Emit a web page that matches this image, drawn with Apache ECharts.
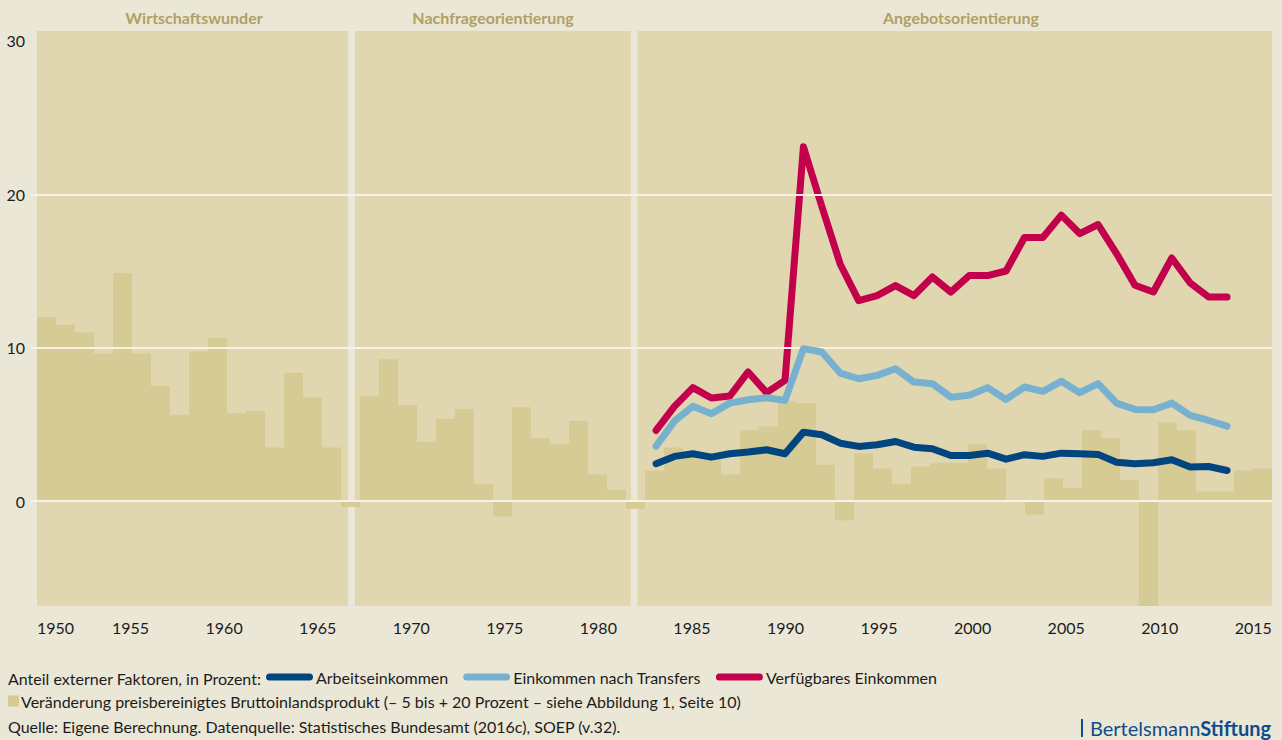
<!DOCTYPE html>
<html lang="de">
<head>
<meta charset="UTF-8">
<title>Anteil externer Faktoren</title>
<script src="https://cdn.jsdelivr.net/npm/echarts@6.0.0/dist/echarts.min.js"></script>
<style>
  * { margin: 0; padding: 0; box-sizing: border-box; }
  body { background: #ebe7d6; }
  #chart { width: 1282px; height: 740px; }
</style>
</head>
<body>
<div id="chart"></div>
<script>
// GDP growth (bars), 1951-2015, in percent
var barYears = [1951, 1952, 1953, 1954, 1955, 1956, 1957, 1958, 1959, 1960,
  1961, 1962, 1963, 1964, 1965, 1966, 1967, 1968, 1969, 1970,
  1971, 1972, 1973, 1974, 1975, 1976, 1977, 1978, 1979, 1980,
  1981, 1982, 1983, 1984, 1985, 1986, 1987, 1988, 1989, 1990,
  1991, 1992, 1993, 1994, 1995, 1996, 1997, 1998, 1999, 2000,
  2001, 2002, 2003, 2004, 2005, 2006, 2007, 2008, 2009, 2010,
  2011, 2012, 2013, 2014, 2015];
var gdpGrowth = [9.6, 9.2, 8.8, 7.7, 11.9, 7.7, 6.0, 4.5, 7.8, 8.5,
  4.6, 4.7, 2.8, 6.7, 5.4, 2.8, -0.3, 5.5, 7.4, 5.0,
  3.1, 4.3, 4.8, 0.9, -0.8, 4.9, 3.3, 3.0, 4.2, 1.4,
  0.6, -0.4, 1.6, 2.8, 2.3, 2.3, 1.4, 3.7, 3.9, 5.2,
  5.1, 1.9, -1.0, 2.5, 1.7, 0.9, 1.8, 2.0, 2.0, 3.0,
  1.7, 0.0, -0.7, 1.2, 0.7, 3.7, 3.3, 1.1, -5.6, 4.1,
  3.7, 0.5, 0.5, 1.6, 1.7];

// external factor shares (lines), 1983-2014
var lineYears = [1983, 1984, 1985, 1986, 1987, 1988, 1989, 1990, 1991, 1992,
  1993, 1994, 1995, 1996, 1997, 1998, 1999, 2000, 2001, 2002,
  2003, 2004, 2005, 2006, 2007, 2008, 2009, 2010, 2011, 2012,
  2013, 2014];
var arbeitseinkommen = [2.44, 2.92, 3.09, 2.87, 3.09, 3.2, 3.35, 3.09, 4.5, 4.33,
  3.78, 3.57, 3.68, 3.89, 3.52, 3.42, 2.98, 2.98, 3.13, 2.74,
  3.03, 2.92, 3.13, 3.09, 3.05, 2.54, 2.44, 2.5, 2.7, 2.22,
  2.26, 2.0];
var nachTransfers = [3.59, 5.22, 6.18, 5.7, 6.39, 6.61, 6.74, 6.57, 9.94, 9.72,
  8.35, 7.98, 8.2, 8.63, 7.76, 7.66, 6.78, 6.9, 7.4, 6.63,
  7.44, 7.16, 7.81, 7.07, 7.66, 6.39, 5.98, 5.96, 6.39, 5.59,
  5.26, 4.89];
var verfuegbar = [4.61, 6.18, 7.4, 6.72, 6.85, 8.42, 7.07, 7.87, 23.1, 19.2,
  15.44, 13.07, 13.4, 14.05, 13.4, 14.61, 13.63, 14.7, 14.7, 15.0,
  17.18, 17.18, 18.64, 17.44, 18.03, 16.14, 14.07, 13.63, 15.85, 14.22,
  13.31, 13.31];

var xTickLabels = [1950, 1955, 1960, 1965, 1970, 1975, 1980, 1985, 1990, 1995, 2000, 2005, 2010, 2015];
var yTickLabels = [0, 10, 20, 30];
var gridValues = [0, 10, 20];

var barName = 'Veränderung preisbereinigtes Bruttoinlandsprodukt (– 5 bis + 20 Prozent – siehe Abbildung 1, Seite 10)';

var pageBg = '#ebe7d6';
var panelBg = '#e0d7b1';
var barColor = '#d6ca95';
var gridColor = '#f6f2e6';
var textColor = '#1c1c1c';
var headColor = '#b1a062';
var logoBlue = '#0f4c8a';
var font = 'Lato';

function pairs(ys, vals) {
  return ys.map(function (y, i) { return [y, vals[i]]; });
}

var chart = echarts.init(document.getElementById('chart'), null, { renderer: 'svg' });

var option = {
  animation: false,
  backgroundColor: pageBg,
  textStyle: { fontFamily: font },
  grid: {
    show: true,
    left: 37, right: 10, top: 31, bottom: 134,
    backgroundColor: panelBg,
    borderWidth: 0
  },
  xAxis: [
    {
      type: 'value', min: 1950, max: 2016,
      axisLine: { show: false }, axisTick: { show: false }, splitLine: { show: false },
      axisLabel: {
        customValues: xTickLabels,
        alignMinLabel: 'left',
        formatter: function (v) { return String(v); },
        margin: 13, fontSize: 16, color: textColor, fontFamily: font
      }
    },
    {
      type: 'category', data: barYears, show: false, boundaryGap: true
    },
    {
      type: 'value', min: 1949.39, max: 2016.44, show: false
    }
  ],
  yAxis: [
    {
      type: 'value', min: -6.83, max: 30.64,
      axisLine: { show: false }, splitLine: { show: false },
      axisTick: { show: true, customValues: gridValues, length: 6, lineStyle: { color: gridColor, width: 2 } },
      axisLabel: { customValues: yTickLabels, margin: 12, fontSize: 16, color: textColor, fontFamily: font }
    },
    {
      type: 'value', min: -5.464, max: 24.512, show: false
    }
  ],
  legend: [
    {
      data: ['Arbeitseinkommen', 'Einkommen nach Transfers', 'Verfügbares Einkommen'],
      left: 261, top: 664,
      itemWidth: 47, itemHeight: 7, itemGap: 15,
      icon: 'path://M3.5,0L43.5,0A3.5,3.5,0,0,1,43.5,7L3.5,7A3.5,3.5,0,0,1,3.5,0Z',
      selectedMode: false,
      textStyle: { fontSize: 16, color: textColor, fontFamily: font, padding: [0, 0, 0, -2] }
    },
    {
      data: [barName],
      left: 3, top: 688,
      itemWidth: 11, itemHeight: 11,
      icon: 'rect',
      selectedMode: false,
      textStyle: { fontSize: 16, color: textColor, fontFamily: font, padding: [0, 0, 0, -3] }
    }
  ],
  graphic: [
    { type: 'text', x: 194, y: 17, style: { text: 'Wirtschaftswunder', fill: headColor, font: 'bold 16px Lato', align: 'center', verticalAlign: 'middle' } },
    { type: 'text', x: 493, y: 17, style: { text: 'Nachfrageorientierung', fill: headColor, font: 'bold 16px Lato', align: 'center', verticalAlign: 'middle' } },
    { type: 'text', x: 961, y: 17, style: { text: 'Angebotsorientierung', fill: headColor, font: 'bold 16px Lato', align: 'center', verticalAlign: 'middle' } },
    { type: 'text', x: 8, y: 678, style: { text: 'Anteil externer Faktoren, in Prozent:', fill: textColor, font: '16px Lato', align: 'left', verticalAlign: 'middle' } },
    { type: 'text', x: 8, y: 726, style: { text: 'Quelle: Eigene Berechnung. Datenquelle: Statistisches Bundesamt (2016c), SOEP (v.32).', fill: textColor, font: '16px Lato', align: 'left', verticalAlign: 'middle' } },
    { type: 'rect', shape: { x: 1081, y: 719, width: 2, height: 18 }, style: { fill: logoBlue } },
    {
      type: 'text', x: 1271, y: 728,
      style: {
        text: '{a|Bertelsmann}{b|Stiftung}',
        align: 'right', verticalAlign: 'middle',
        rich: {
          a: { fill: logoBlue, font: '20px Lato' },
          b: { fill: logoBlue, font: 'bold 20px Lato' }
        }
      }
    }
  ],
  series: [
    {
      name: 'separators', type: 'line', data: [], xAxisIndex: 0, yAxisIndex: 0, z: 1, silent: true,
      markArea: {
        silent: true,
        itemStyle: { color: pageBg },
        data: [
          [{ xAxis: 1966.62 }, { xAxis: 1966.99 }],
          [{ xAxis: 1981.74 }, { xAxis: 1982.1 }]
        ]
      }
    },
    {
      name: barName, type: 'bar', xAxisIndex: 1, yAxisIndex: 1, z: 2,
      data: gdpGrowth, barWidth: '100%', barCategoryGap: 0,
      itemStyle: { color: barColor }, color: barColor
    },
    {
      name: 'grid', type: 'line', data: [], xAxisIndex: 0, yAxisIndex: 0, z: 3, silent: true,
      markLine: {
        silent: true, symbol: ['none', 'none'], label: { show: false },
        lineStyle: { color: gridColor, width: 2, type: 'solid' },
        data: gridValues.map(function (v) { return { yAxis: v }; })
      }
    },
    {
      name: 'Verfügbares Einkommen', type: 'line', xAxisIndex: 2, yAxisIndex: 0, z: 4,
      data: pairs(lineYears, verfuegbar), showSymbol: false, color: '#c2004b',
      lineStyle: { width: 7, cap: 'round', join: 'round', color: '#c2004b' }
    },
    {
      name: 'Einkommen nach Transfers', type: 'line', xAxisIndex: 2, yAxisIndex: 0, z: 5,
      data: pairs(lineYears, nachTransfers), showSymbol: false, color: '#78b1cf',
      lineStyle: { width: 7, cap: 'round', join: 'round', color: '#78b1cf' }
    },
    {
      name: 'Arbeitseinkommen', type: 'line', xAxisIndex: 2, yAxisIndex: 0, z: 6,
      data: pairs(lineYears, arbeitseinkommen), showSymbol: false, color: '#00457f',
      lineStyle: { width: 7, cap: 'round', join: 'round', color: '#00457f' }
    }
  ]
};
chart.setOption(option);
</script>
</body>
</html>
